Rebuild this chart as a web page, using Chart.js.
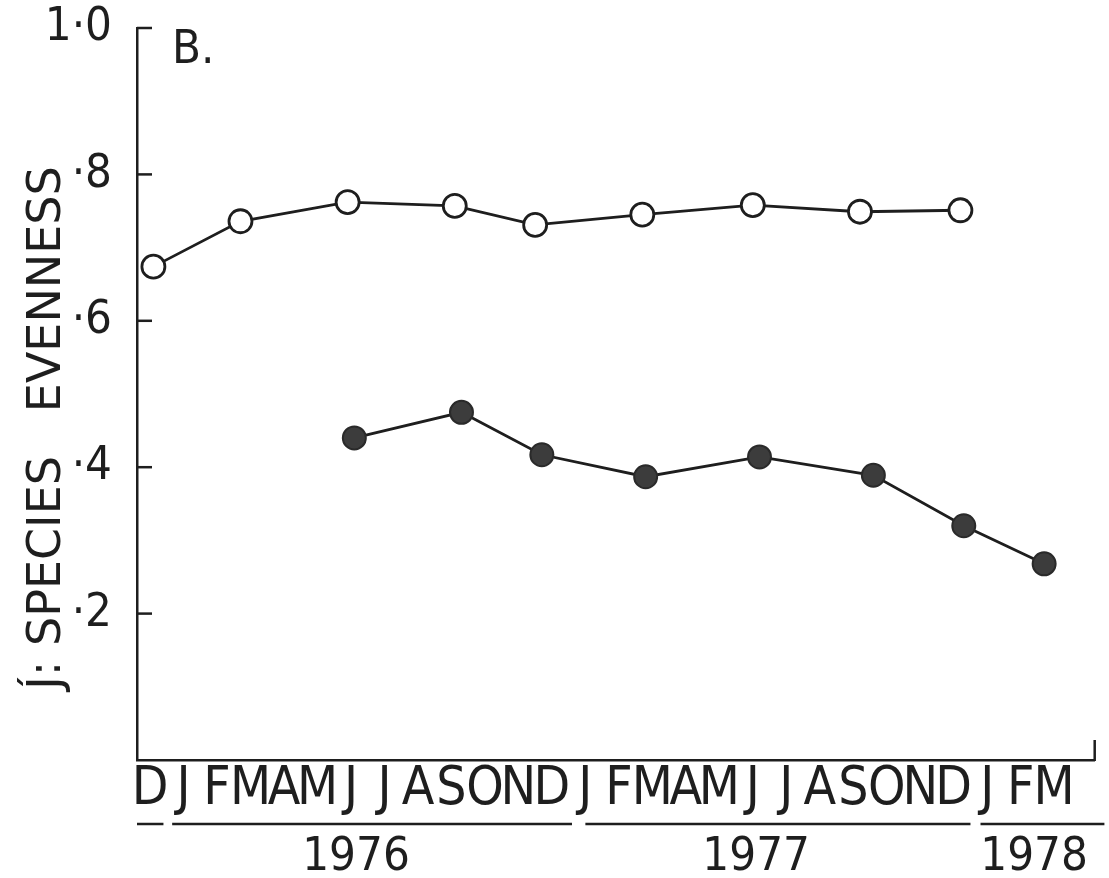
<!DOCTYPE html>
<html lang="en">
<head>
<meta charset="UTF-8">
<title>J' species evenness</title>
<script src="https://cdnjs.cloudflare.com/ajax/libs/Chart.js/4.4.1/chart.umd.js"></script>
<style>
    html, body { margin: 0; padding: 0; background: #fff; }
    #wrap { width: 1109px; height: 878px; }
</style>
</head>
<body>
<div id="wrap"><canvas id="evennessChart" width="1109" height="878"></canvas></div>
<script>
    // month letters along the bottom, index 0 = Dec 1975 ... 27 = Mar 1978
    const monthLabels = ['D','J','F','M','A','M','J','J','A','S','O','N','D',
                         'J','F','M','A','M','J','J','A','S','O','N','D','J','F','M'];
    const yearLabels = ['1976', '1977', '1978'];
    const yearCenters = [6.15, 18.1, 26.4];
    // underlines below the month letters (in month units)
    const yearSpans = [[-0.39, 0.4], [0.66, 12.6], [13.0, 24.5], [24.8, 28.5]];

    const yTickValues = [0.2, 0.4, 0.6, 0.8, 1.0];
    const yTickLabels = ['·2', '·4', '·6', '·8', '1·0'];

    // open circles
    const openMonths = [0.1, 2.7, 5.9, 9.1, 11.5, 14.7, 18.0, 21.2, 24.2];
    const openValues = [0.674, 0.736, 0.762, 0.757, 0.731, 0.745, 0.758, 0.749, 0.751];
    // filled circles
    const filledMonths = [6.1, 9.3, 11.7, 14.8, 18.2, 21.6, 24.3, 26.7];
    const filledValues = [0.440, 0.475, 0.417, 0.387, 0.414, 0.389, 0.320, 0.268];

    const INK = '#1e1e1e';
    const FONT = '"DejaVu Sans Condensed", "Liberation Sans Narrow", "DejaVu Sans", sans-serif';
    const WIDE_FONT = '"DejaVu Sans", sans-serif';

    // extra bits drawn on top: inward ticks, end tick, underlines, panel letter, y title
    const extras = {
        id: 'extras',
        afterDraw(chart) {
            const ctx = chart.ctx;
            const xs = chart.scales.x;
            const ys = chart.scales.y;
            const { left, right, bottom } = chart.chartArea;
            ctx.save();
            ctx.strokeStyle = INK;
            ctx.lineWidth = 2.5;
            yTickValues.forEach(v => {
                const py = ys.getPixelForValue(v);
                ctx.beginPath();
                ctx.moveTo(left, py);
                ctx.lineTo(left + 15, py);
                ctx.stroke();
            });
            ctx.beginPath();
            ctx.moveTo(right, bottom + 1);
            ctx.lineTo(right, bottom - 20);
            ctx.stroke();

            const uy = xs.bottom - 1;
            yearSpans.forEach(([a, b]) => {
                ctx.beginPath();
                ctx.moveTo(xs.getPixelForValue(a), uy);
                ctx.lineTo(xs.getPixelForValue(b), uy);
                ctx.stroke();
            });

            ctx.fillStyle = INK;
            ctx.font = '47px ' + FONT;
            ctx.textBaseline = 'alphabetic';
            ctx.fillText('B.', 172, 63);

            ctx.font = '46px ' + WIDE_FONT;
            ctx.translate(60, 428);
            ctx.rotate(-Math.PI / 2);
            ctx.textAlign = 'center';
            ctx.fillText('J\u0301: SPECIES   EVENNESS', 0, 0);
            ctx.restore();
        }
    };

    new Chart(document.getElementById('evennessChart'), {
        type: 'line',
        data: {
            datasets: [{
                label: 'open',
                data: openMonths.map((m, i) => ({ x: m, y: openValues[i] })),
                borderColor: INK,
                borderWidth: 2.8,
                pointRadius: 11.5,
                pointBorderWidth: 2.8,
                pointBackgroundColor: '#fff',
                pointBorderColor: INK,
                tension: 0
            }, {
                label: 'filled',
                data: filledMonths.map((m, i) => ({ x: m, y: filledValues[i] })),
                borderColor: INK,
                borderWidth: 2.8,
                pointRadius: 11.5,
                pointBorderWidth: 2,
                pointBackgroundColor: '#3c3c3c',
                pointBorderColor: '#2a2a2a',
                tension: 0
            }]
        },
        options: {
            responsive: false,
            animation: false,
            layout: { padding: { top: 28, right: 11, left: 0, bottom: 0 } },
            plugins: {
                legend: { display: false },
                tooltip: { enabled: false }
            },
            scales: {
                x: {
                    type: 'linear',
                    position: 'bottom',
                    weight: 0,
                    min: -0.39,
                    max: 28.21,
                    afterBuildTicks: s => { s.ticks = monthLabels.map((_, i) => ({ value: i })); },
                    afterFit: s => { s.height = 65; s.paddingLeft = 0; s.paddingRight = 0; },
                    grid: { display: false, drawTicks: false },
                    border: { display: true, color: INK, width: 2.5 },
                    ticks: {
                        autoSkip: false,
                        maxRotation: 0,
                        minRotation: 0,
                        padding: 4,
                        color: INK,
                        font: { family: FONT, size: 53, lineHeight: 1 },
                        callback: v => monthLabels[Math.round(v)]
                    }
                },
                x2: {
                    type: 'linear',
                    position: 'bottom',
                    weight: 1,
                    min: -0.39,
                    max: 28.21,
                    afterBuildTicks: s => { s.ticks = yearCenters.map(v => ({ value: v })); },
                    afterFit: s => { s.height = 53; s.paddingLeft = 0; s.paddingRight = 0; },
                    grid: { display: false, drawTicks: false },
                    border: { display: false },
                    ticks: {
                        autoSkip: false,
                        maxRotation: 0,
                        minRotation: 0,
                        padding: 9,
                        color: INK,
                        font: { family: FONT, size: 47, lineHeight: 1 },
                        callback: (v, i) => yearLabels[i]
                    }
                },
                y: {
                    type: 'linear',
                    min: 0,
                    max: 1.0,
                    afterBuildTicks: s => { s.ticks = yTickValues.map(v => ({ value: v })); },
                    afterFit: s => { s.width = 137; s.paddingTop = 0; s.paddingBottom = 0; },
                    grid: { display: false, drawTicks: false },
                    border: { display: true, color: INK, width: 2.5 },
                    ticks: {
                        padding: 25,
                        color: INK,
                        font: { family: FONT, size: 47, lineHeight: 1 },
                        callback: (v, i) => yTickLabels[i]
                    }
                }
            }
        },
        plugins: [extras]
    });
</script>
</body>
</html>
